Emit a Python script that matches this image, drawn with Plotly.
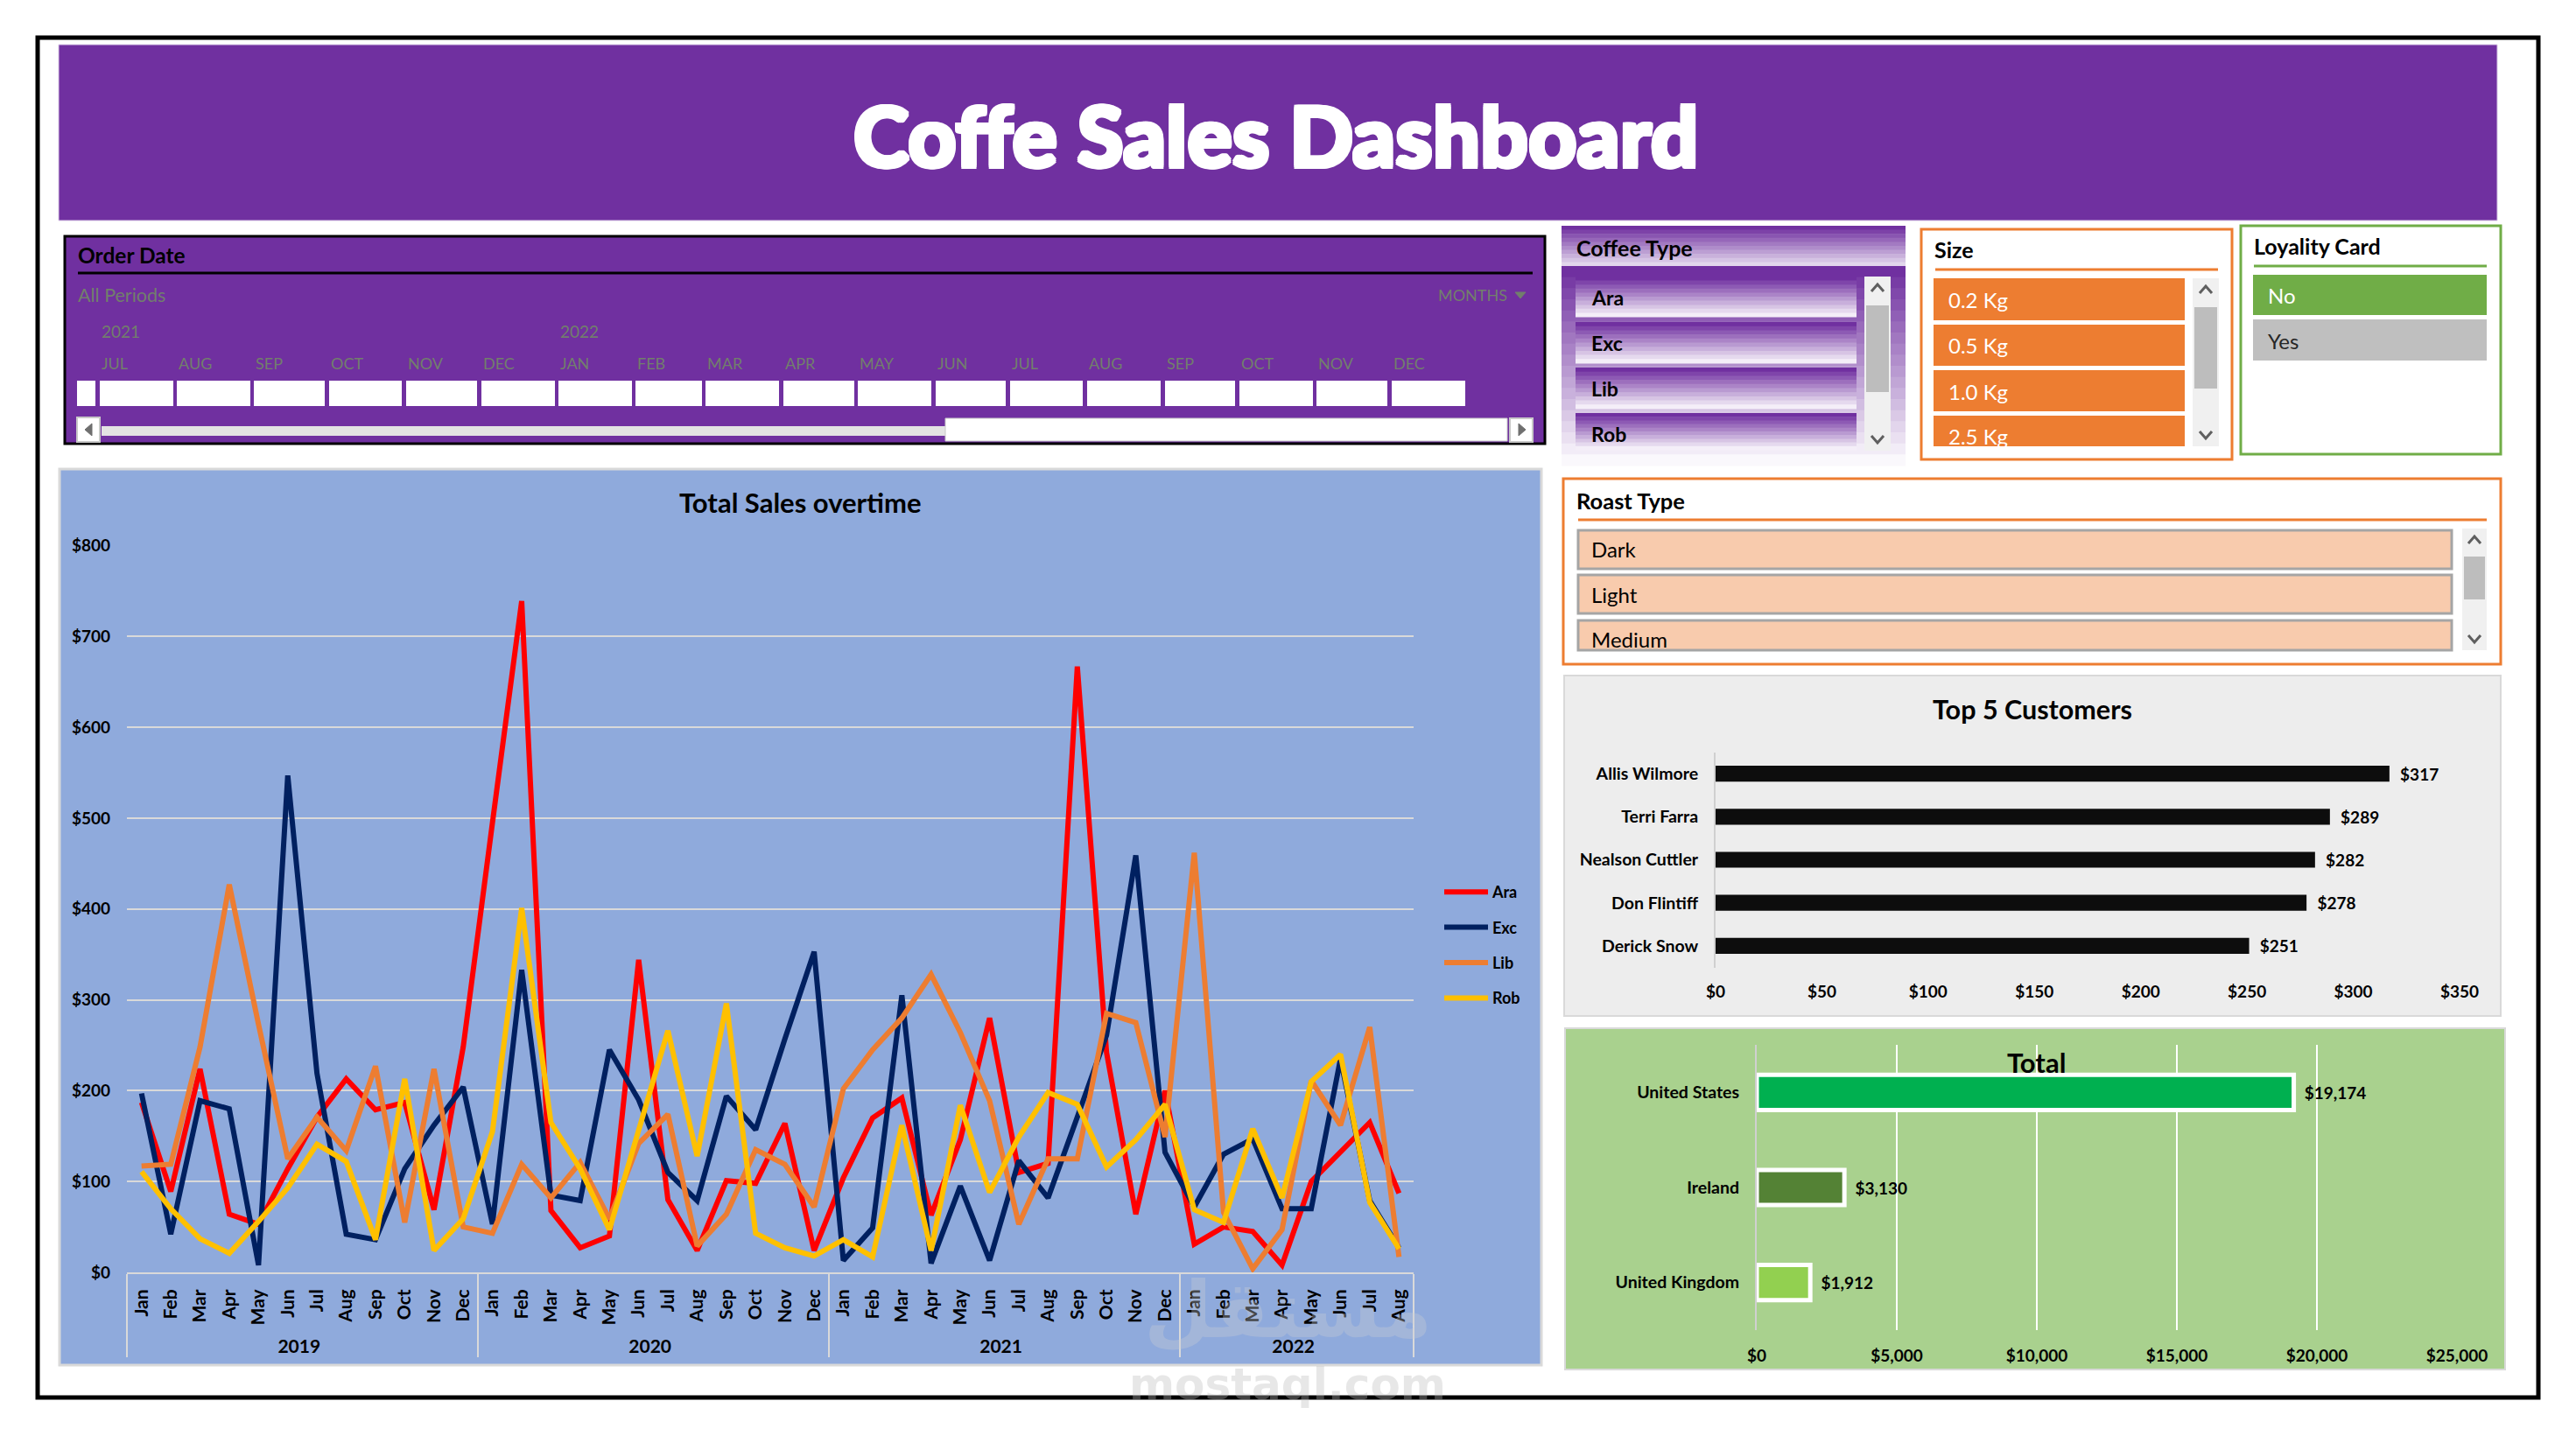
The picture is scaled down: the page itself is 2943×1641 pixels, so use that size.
import plotly.graph_objects as go

W, H = 2943, 1641

# ---------- data ----------
MONTHS = ["Jan","Feb","Mar","Apr","May","Jun","Jul","Aug","Sep","Oct","Nov","Dec"]
YEARS = ["2019","2020","2021","2022"]
MONTH_COUNTS = [12, 12, 12, 8]
ara = [187,89,224,64,53,114,171,213,179,187,69,248,
       495,739,68,27,40,344,80,24,101,98,164,24,
       104,170,192,63,146,280,110,120,667,242,64,200,
       31,50,45,8,100,133,165,87]
exc = [197,42,189,180,8,547,219,42,36,114,162,204,
       53,333,85,79,245,190,110,79,194,157,257,353,
       13,49,305,10,95,13,123,82,171,261,459,132,
       72,130,147,70,70,235,79,27]
lib = [117,119,248,427,273,125,171,134,227,55,224,50,
       43,119,82,121,59,142,174,29,64,135,119,72,
       202,245,280,328,264,189,53,125,125,285,275,149,
       462,66,4,47,211,162,270,17]
rob = [111,70,37,21,56,93,141,122,36,213,24,59,
       155,401,165,114,47,158,266,128,296,43,27,18,
       36,17,162,24,184,88,149,198,185,116,146,185,
       69,55,158,82,210,240,77,26]
customers = ["Allis Wilmore","Terri Farra","Nealson Cuttler","Don Flintiff","Derick Snow"]
customer_sales = [317,289,282,278,251]
countries = ["United States","Ireland","United Kingdom"]
country_sales = [19174,3130,1912]
country_colors = ["#00B050","#548235","#92D050"]
coffee_types = ["Ara","Exc","Lib","Rob"]
coffee_colors = ["#FF0000","#002060","#ED7D31","#FFC000"]
sizes = ["0.2 Kg","0.5 Kg","1.0 Kg","2.5 Kg"]
loyalty = ["No","Yes"]
roasts = ["Dark","Light","Medium"]
tl_months = ["JUL","AUG","SEP","OCT","NOV","DEC","JAN","FEB","MAR","APR","MAY","JUN",
             "JUL","AUG","SEP","OCT","NOV","DEC"]

# ---------- helpers ----------
FONT = "Lato"
def X(x): return x / W
def Y(y): return 1 - y / H

shapes, annots = [], []
def rect(x0, y0, x1, y1, fill="rgba(0,0,0,0)", line=None, lw=0):
    shapes.append(dict(type="rect", xref="paper", yref="paper", layer="below",
                       x0=X(x0), x1=X(x1), y0=Y(y1), y1=Y(y0), fillcolor=fill,
                       line=dict(color=line or "rgba(0,0,0,0)", width=lw)))
def hline(x0, x1, y, color, lw=3):
    shapes.append(dict(type="line", xref="paper", yref="paper", layer="below",
                       x0=X(x0), x1=X(x1), y0=Y(y), y1=Y(y), line=dict(color=color, width=lw)))
def mix(c1, c2, t):
    return "rgb(%d,%d,%d)" % tuple(round(a + (b - a) * t) for a, b in zip(c1, c2))
def gradient(x0, y0, x1, y1, c1, c2, n=14):
    for i in range(n):
        a = y0 + (y1 - y0) * i / n
        b = y0 + (y1 - y0) * (i + 1) / n
        rect(x0, a, x1, b + 0.6, fill=mix(c1, c2, i / (n - 1)))
def label(x, y, text, size=22, color="#000000", weight=400, anchor="left", font=FONT, opacity=1, shadow=None):
    f = dict(family=font, size=size, color=color, weight=weight)
    if shadow:
        f["shadow"] = shadow
    annots.append(dict(xref="paper", yref="paper", x=X(x), y=Y(y), text=text, showarrow=False,
                       xanchor=anchor, yanchor="middle", opacity=opacity, borderpad=0, font=f))
def path(points, color, lw=3, fill=None):
    d = "M " + " L ".join(f"{X(a):.6f} {Y(b):.6f}" for a, b in points)
    if fill:
        d += " Z"
    shapes.append(dict(type="path", xref="paper", yref="paper", layer="below", path=d,
                       fillcolor=fill or "rgba(0,0,0,0)", line=dict(color=color, width=lw)))
def scrollbar(x0, y0, x1, y1, t0, t1):
    rect(x0, y0, x1, y1, fill="#F0F0F0")
    rect(x0 + 2, t0, x1 - 2, t1, fill="#BDBDBD")
    c = (x0 + x1) / 2
    path([(c - 7, y0 + 17), (c, y0 + 9), (c + 7, y0 + 17)], "#5F5F5F", 3)
    path([(c - 7, y1 - 17), (c, y1 - 9), (c + 7, y1 - 17)], "#5F5F5F", 3)

PURPLE = "#7030A0"
GRAYTXT = "#727F6C"
ORANGE = "#ED7D31"
GREEN = "#70AD47"

# page frame and header
rect(43, 43, 2900, 1597, line="#000000", lw=5)
rect(67, 51, 2853, 252, fill=PURPLE, line="#D9C8E6", lw=1)
label(1458, 153, "Coffe Sales Dashboard", size=96, color="#FFFFFF", weight=900, anchor="center",
      shadow="2px 0 0 #fff,-2px 0 0 #fff,0 2px 0 #fff,0 -2px 0 #fff,2px 2px 0 #fff,-2px -2px 0 #fff,2px -2px 0 #fff,-2px 2px 0 #fff")

# timeline slicer
rect(74, 270, 1765, 507, fill=PURPLE, line="#000000", lw=3)
label(88, 291, "Order Date", size=24.5, weight=700)
hline(89, 1751, 312, "#000000", 3)
label(88, 337, "All Periods", size=21.5, color=GRAYTXT)
label(1642, 337, "MONTHS", size=18, color=GRAYTXT)
path([(1731, 334), (1743, 334), (1737, 341)], GRAYTXT, 1, fill=GRAYTXT)
label(115, 378, "2021", size=19, color=GRAYTXT)
label(639, 378, "2022", size=19, color=GRAYTXT)
edges = [(114,198),(202,286),(290,371),(376,459),(464,545),(550,634),(638,722),(726,802),
         (806,890),(895,976),(980,1064),(1069,1149),(1154,1237),(1242,1326),(1331,1411),
         (1416,1500),(1504,1585),(1590,1674)]
rect(88, 435, 109, 464, fill="#FFFFFF")
for (a, b), m in zip(edges, tl_months):
    rect(a, 435, b, 464, fill="#FFFFFF")
    label(a + 1, 415, m, size=18, color=GRAYTXT)
rect(88, 477, 114, 505, fill="#FFFFFF", line="#C8C8C8", lw=2)
path([(105, 484), (105, 498), (97, 491)], "#6F6F6F", 1, fill="#6F6F6F")
rect(116, 487, 1080, 498, fill="#E3E3E3")
rect(1080, 478, 1722, 504, fill="#FFFFFF", line="#C8C8C8", lw=1)
rect(1725, 478, 1751, 505, fill="#FFFFFF", line="#C8C8C8", lw=2)
path([(1735, 484), (1735, 498), (1743, 491)], "#6F6F6F", 1, fill="#6F6F6F")

# coffee type slicer
C_P = (112, 48, 160)
C_W = (244, 238, 248)
gradient(1784, 258, 2177, 304, C_P, (226, 214, 236), 10)
gradient(1784, 304, 2177, 532, C_P, (250, 248, 252), 18)
label(1800, 283, "Coffee Type", size=25, weight=700)
for i, t in enumerate(coffee_types):
    y0 = [316, 368, 420, 472][i]
    y1 = [362, 415, 467, 514][i]
    gradient(1800, y0, 2121, y1, C_P, C_W, 10)
    label(1817, [340, 392, 444, 496][i], t, size=23, weight=700)
scrollbar(2130, 316, 2160, 515, 349, 448)

# size slicer
rect(2195, 262, 2550, 525, fill="#FFFFFF", line=ORANGE, lw=3)
label(2209, 285, "Size", size=25, weight=700)
hline(2211, 2534, 308, ORANGE, 3)
for i, t in enumerate(sizes):
    y0 = [318, 371, 423, 475][i]
    y1 = [366, 418, 470, 510][i]
    rect(2209, y0, 2496, y1, fill=ORANGE)
    label(2225, [342, 394, 447, 498][i], t, size=24, color="#FFFFFF")
scrollbar(2505, 318, 2535, 510, 351, 444)

# loyalty slicer
rect(2560, 258, 2857, 519, fill="#FFFFFF", line=GREEN, lw=3)
label(2574, 281, "Loyality Card", size=25, weight=700)
hline(2575, 2841, 304, GREEN, 3)
rect(2574, 314, 2841, 360, fill=GREEN)
label(2590, 337, loyalty[0], size=24, color="#FFFFFF")
rect(2574, 365, 2841, 412, fill="#BFBFBF")
label(2590, 389, loyalty[1], size=24, color="#262626")

# roast slicer
rect(1786, 547, 2857, 759, fill="#FFFFFF", line=ORANGE, lw=3)
label(1800, 572, "Roast Type", size=25.5, weight=700)
hline(1803, 2841, 594, ORANGE, 3)
for i, t in enumerate(roasts):
    y0 = [606, 657, 709][i]
    y1 = [650, 701, 743][i]
    rect(1803, y0, 2801, y1, fill="#F8CBAD", line="#A5A5A5", lw=3)
    label(1817, [627, 679, 730][i], t, size=24)
scrollbar(2813, 604, 2841, 743, 636, 685)

# chart panels
rect(68, 536, 1761, 1560, fill="#8FAADC", line="#D9D9D9", lw=3)
rect(1787, 772, 2857, 1161, fill="#EDEDED", line="#D9D9D9", lw=2)
rect(1788, 1175, 2862, 1565, fill="#A9D18E", line="#D9D9D9", lw=2)

label(915, 574, "Total Sales overtime", size=31, weight=700, anchor="center")
label(2322, 810, "Top 5 Customers", size=30.5, weight=700, anchor="center")
label(2326, 1214, "Total", size=31, weight=700, anchor="center")

# watermark
label(1471, 1496, "مستقل", size=90, color="#C9CDD6", weight=700, anchor="center",
      font="DejaVu Sans", opacity=0.35)
label(1471, 1582, "mostaql.com", size=50, color="#BDBDBD", weight=700, anchor="center",
      font="DejaVu Sans", opacity=0.35)

# ---------- traces ----------
year_axis, month_axis = [], []
for yr, n in zip(YEARS, MONTH_COUNTS):
    year_axis += [yr] * n
    month_axis += MONTHS[:n]

fig = go.Figure()
for name, vals, col in zip(coffee_types, [ara, exc, lib, rob], coffee_colors):
    fig.add_trace(go.Scatter(x=[year_axis, month_axis], y=vals, name=name, mode="lines",
                             legendgroup=name, line=dict(color=col, width=6, shape="linear"),
                             xaxis="x", yaxis="y", cliponaxis=False))

fig.add_trace(go.Bar(y=customers, x=customer_sales, orientation="h", xaxis="x2", yaxis="y2",
                     marker=dict(color="#0D0D0D", line=dict(width=0)), showlegend=False,
                     text=[f"\u00a0\u00a0${v:,}" for v in customer_sales], textposition="outside",
                     cliponaxis=False, textangle=0, constraintext="none",
                     textfont=dict(family=FONT, size=19, color="#000000", weight=700)))
fig.add_trace(go.Bar(y=countries, x=country_sales, orientation="h", xaxis="x3", yaxis="y3",
                     marker=dict(color=country_colors, line=dict(width=5, color="#FFFFFF")),
                     showlegend=False, text=[f"\u00a0\u00a0${v:,}" for v in country_sales],
                     textposition="outside", cliponaxis=False, textangle=0, constraintext="none",
                     textfont=dict(family=FONT, size=19, color="#000000", weight=700)))

tick = dict(family=FONT, size=19, color="#000000", weight=700)
cat = dict(family=FONT, size=19.5, color="#000000", weight=700)
fig.update_layout(
    width=W, height=H, margin=dict(l=0, r=0, t=0, b=0, autoexpand=False), autosize=False,
    paper_bgcolor="#FFFFFF", plot_bgcolor="rgba(0,0,0,0)",
    font=dict(family=FONT), shapes=shapes, annotations=annots, bargap=0.63,
    legend=dict(x=X(1645), y=Y(1001), xanchor="left", yanchor="top", bgcolor="rgba(0,0,0,0)",
                traceorder="grouped", tracegroupgap=14, itemwidth=50,
                font=dict(family=FONT, size=18, color="#000000", weight=700)),
    xaxis=dict(domain=[X(145), X(1615)], anchor="y", type="multicategory", tickangle=-90,
               range=[-0.5, 43.5], tickfont=dict(family=FONT, size=21, color="#000000", weight=700),
               showgrid=False, showline=True,
               linecolor="#D9D9D9", linewidth=2, showdividers=True, dividercolor="#D9D9D9",
               dividerwidth=2, ticks="", ticklabelstandoff=9),
    yaxis=dict(domain=[Y(1454), Y(623.6)], anchor="x", range=[0, 800], dtick=100, tickprefix="$",
               tickfont=tick, gridcolor="#D9D9D9", gridwidth=2, zeroline=False, showline=False,
               ticklabelstandoff=18),
    xaxis2=dict(domain=[X(1960), X(2810)], anchor="y2", range=[0, 350], dtick=50, tickprefix="$",
                tickfont=tick, showgrid=False, zeroline=False, ticklabelstandoff=14),
    yaxis2=dict(domain=[Y(1105.5), Y(859.5)], anchor="x2", autorange="reversed", tickfont=cat,
                showgrid=False, zeroline=False, showline=True, linecolor="#D0D0D0", linewidth=2,
                ticklabelstandoff=14),
    xaxis3=dict(domain=[X(2007), X(2807)], anchor="y3", range=[0, 25000], dtick=5000,
                tickprefix="$", tickformat=",", tickfont=tick, gridcolor="#FFFFFF", gridwidth=2,
                zeroline=False, ticklabelstandoff=16),
    yaxis3=dict(domain=[Y(1520), Y(1194)], anchor="x3", autorange="reversed", tickfont=cat,
                showgrid=False, zeroline=False, showline=True, linecolor="#D0D0D0", linewidth=2,
                ticklabelstandoff=14),
)
fig.write_html("out.html", config={"displayModeBar": False},
               post_script="document.body.style.margin='0';document.body.style.overflow='hidden';")
